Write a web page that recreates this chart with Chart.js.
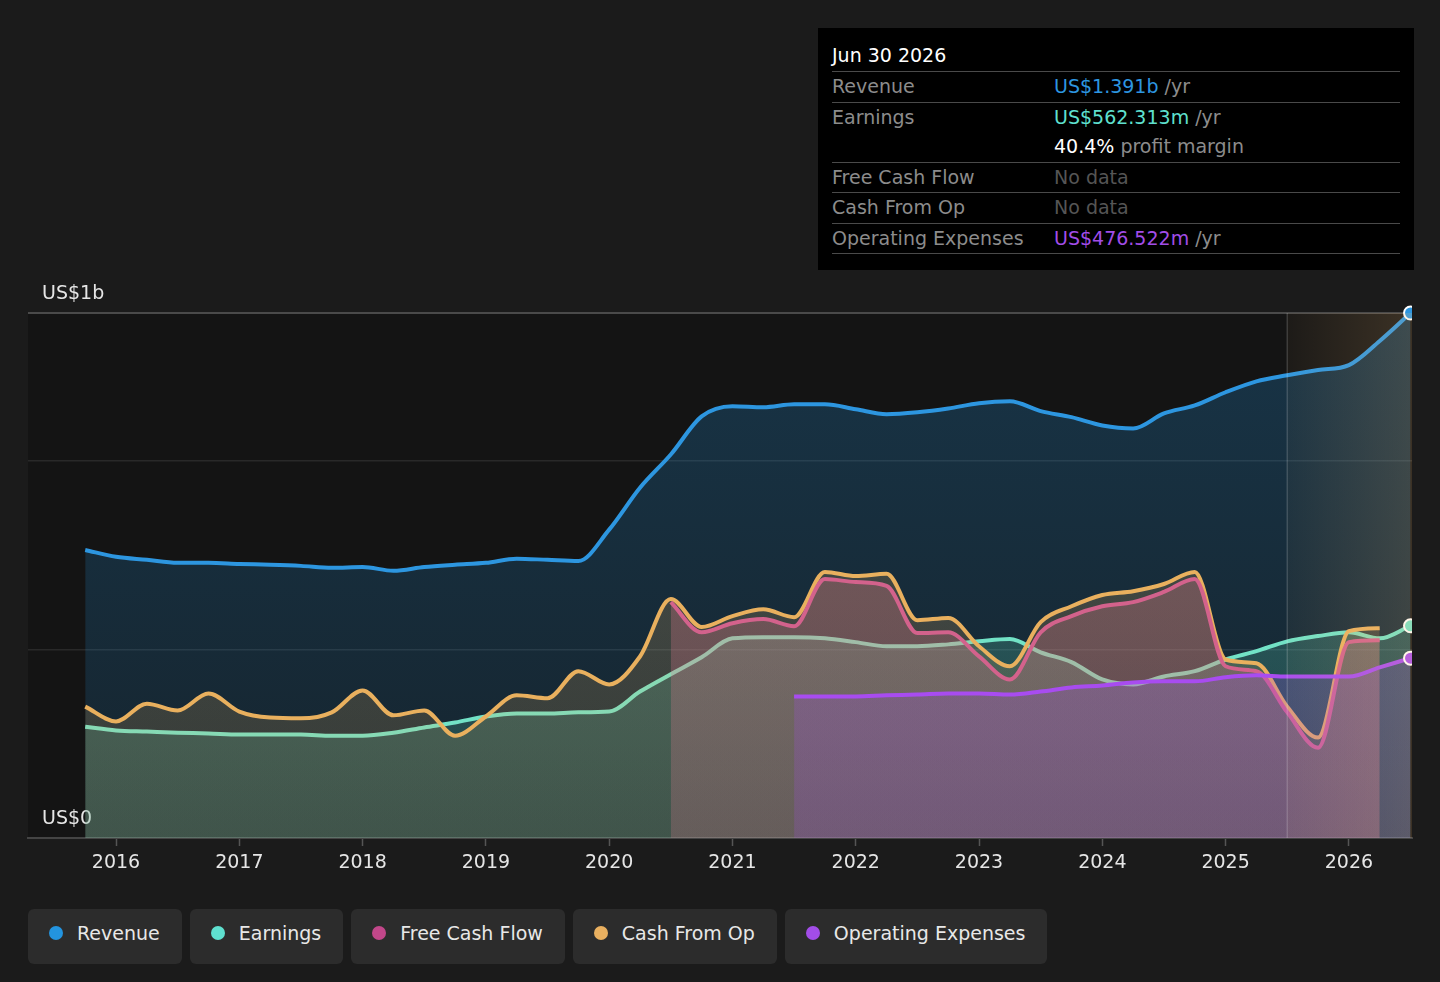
<!DOCTYPE html>
<html>
<head>
<meta charset="utf-8">
<title>Revenue &amp; Earnings</title>
<script src="https://cdn.jsdelivr.net/npm/chart.js@4.4.1/dist/chart.umd.min.js"></script>
<style>
  html, body {
    margin: 0;
    padding: 0;
    width: 1440px;
    height: 982px;
    overflow: hidden;
    background: #1b1b1b;
    font-family: "DejaVu Sans", sans-serif;
  }
  #wrap { position: relative; width: 1440px; height: 982px; }
  #chart { position: absolute; left: 0; top: 0; }

  /* hover box, top right */
  .tip {
    position: absolute;
    left: 818px;
    top: 28px;
    width: 596px;
    height: 242px;
    background: #000;
    box-sizing: border-box;
    padding: 10px 14px 0 14px;
    font-size: 19px;
  }
  .tip .title { color: #fff; height: 33px; line-height: 34px; border-bottom: 1px solid #4a4a4a; }
  .tip .row { display: flex; border-bottom: 1px solid #4a4a4a; }
  .tip .lab { width: 222px; color: #8c8c8c; line-height: 29.5px; }
  .tip .val { color: #8c8c8c; line-height: 29.5px; }
  .tip .nodata { color: #555; }

  .legend {
    position: absolute;
    left: 28px;
    top: 909px;
    display: flex;
    gap: 8px;
  }
  .legend .item {
    height: 55px;
    box-sizing: border-box;
    padding: 0 22px 7px 21px;
    background: #2c2c2c;
    border-radius: 6px;
    display: flex;
    align-items: center;
    color: #e8e8e8;
    font-size: 19px;
  }
  .legend .dot { width: 14px; height: 14px; border-radius: 50%; margin-right: 14px; }
</style>
</head>
<body>
<div id="wrap">
  <canvas id="chart" width="1440" height="900"></canvas>

  <div class="tip">
    <div class="title">Jun 30 2026</div>
    <div class="row"><div class="lab">Revenue</div><div class="val"><span style="color:#2d96e0">US$1.391b</span> /yr</div></div>
    <div class="row"><div class="lab">Earnings</div>
      <div class="val"><span style="color:#5fe0cf">US$562.313m</span> /yr<br><span style="color:#fff">40.4%</span> profit margin</div></div>
    <div class="row"><div class="lab">Free Cash Flow</div><div class="val nodata">No data</div></div>
    <div class="row"><div class="lab">Cash From Op</div><div class="val nodata">No data</div></div>
    <div class="row"><div class="lab">Operating Expenses</div><div class="val"><span style="color:#a24de8">US$476.522m</span> /yr</div></div>
  </div>

  <div class="legend" id="legend"></div>
</div>

<script>
// quarter ends, as decimal years (Sep 2015 .. Jun 2026)
const quarters = [
  2015.75, 2016.0, 2016.25, 2016.5, 2016.75, 2017.0, 2017.25, 2017.5, 2017.75,
  2018.0, 2018.25, 2018.5, 2018.75, 2019.0, 2019.25, 2019.5, 2019.75,
  2020.0, 2020.25, 2020.5, 2020.75, 2021.0, 2021.25, 2021.5, 2021.75,
  2022.0, 2022.25, 2022.5, 2022.75, 2023.0, 2023.25, 2023.5, 2023.75,
  2024.0, 2024.25, 2024.5, 2024.75, 2025.0, 2025.25, 2025.5, 2025.75,
  2026.0, 2026.25, 2026.5
];

// values in US$ millions
const revenue = [
  763, 745, 737, 729, 729, 726, 724, 721, 716, 718, 708, 718, 724, 729, 740, 737, 734,
  817, 928, 1016, 1117, 1144, 1141, 1149, 1149, 1136, 1123, 1128, 1138, 1152, 1157,
  1131, 1115, 1093, 1085, 1125, 1146, 1181, 1210, 1226, 1240, 1253, 1317, 1391
];
const earnings = [
  295, 285, 282, 279, 277, 274, 274, 274, 271, 271, 279, 293, 306, 322, 330, 330, 333,
  335, 388, 434, 479, 529, 532, 532, 529, 519, 508, 508, 513, 521, 527,
  492, 466, 420, 407, 428, 442, 473, 495, 521, 535, 545, 529, 562.313
];
// Sep 2015 .. Mar 2026
const cashFromOp = [
  348, 309, 356, 338, 383, 335, 319, 317, 333, 391, 325, 338, 271, 322, 378, 370, 442,
  407, 481, 633, 559, 588, 606, 585, 705, 694, 700, 577, 583, 508, 455,
  572, 614, 644, 654, 673, 705, 473, 463, 348, 266, 548, 556
];
// Jun 2020 .. Mar 2026
const fcfQuarters = quarters.slice(19, 43);
const freeCashFlow = [
  625, 545, 569, 580, 561, 686, 678, 668, 543, 545, 481, 420,
  545, 588, 614, 625, 652, 686, 455, 442, 333, 239, 519, 524
];
// Jun 2021 .. Jun 2026
const opexQuarters = quarters.slice(23);
const operatingExpenses = [
  375, 375, 375, 378, 380, 383, 383, 380, 388, 399, 404,
  412, 415, 415, 426, 431, 428, 428, 428, 452, 476.522
];

const yearTicks = [2016, 2017, 2018, 2019, 2020, 2021, 2022, 2023, 2024, 2025, 2026];
const yTicks = [0, 500, 1000, 1391];
const yLabels = { 0: "US$0", 1391: "US$1b" };
const forecastStart = 2025.5;

const FONT = '"DejaVu Sans", sans-serif';

function gradientFill(rgb, aTop, aBottom) {
  return function (context) {
    const area = context.chart.chartArea;
    if (!area) return "rgba(" + rgb + "," + aBottom + ")";
    const g = context.chart.ctx.createLinearGradient(0, area.top, 0, area.bottom);
    g.addColorStop(0, "rgba(" + rgb + "," + aTop + ")");
    g.addColorStop(1, "rgba(" + rgb + "," + aBottom + ")");
    return g;
  };
}

function series(label, xs, ys, color, fill, order, endDot) {
  return {
    label: label,
    data: xs.map((x, i) => ({ x: x, y: ys[i] })),
    borderColor: color,
    borderWidth: 4,
    backgroundColor: fill,
    fill: "origin",
    cubicInterpolationMode: "monotone",
    pointRadius: (ctx) => (endDot && ctx.dataIndex === ys.length - 1 ? 6.5 : 0),
    pointHoverRadius: 0,
    pointBackgroundColor: color,
    pointBorderColor: "#ffffff",
    pointBorderWidth: 2,
    clip: { left: 2, top: 12, right: 0, bottom: 2 },
    order: order
  };
}

// plot background, forecast shading
const decor = {
  id: "decor",
  beforeDraw(chart) {
    const { ctx, chartArea: a } = chart;
    ctx.save();
    ctx.fillStyle = "#141414";
    ctx.fillRect(a.left, a.top, a.right - a.left, a.bottom - a.top);
    ctx.restore();
  },
  afterDatasetsDraw(chart) {
    const { ctx, chartArea: a } = chart;
    const fx = chart.scales.x.getPixelForValue(forecastStart);
    ctx.save();
    const g = ctx.createLinearGradient(fx, 0, a.right, 0);
    g.addColorStop(0, "rgba(255,195,120,0.04)");
    g.addColorStop(1, "rgba(255,195,120,0.17)");
    ctx.fillStyle = g;
    ctx.fillRect(fx, a.top, a.right - fx, a.bottom - a.top);
    ctx.strokeStyle = "rgba(255,255,255,0.16)";
    ctx.lineWidth = 1.5;
    ctx.beginPath();
    ctx.moveTo(fx, a.top);
    ctx.lineTo(fx, a.bottom);
    ctx.stroke();
    ctx.restore();
  }
};

const ctx = document.getElementById("chart").getContext("2d");
new Chart(ctx, {
  type: "line",
  data: {
    datasets: [
      series("Revenue", quarters, revenue, "#2d96e0", gradientFill("35,148,223", 0.25, 0.13), 5, true),
      series("Earnings", quarters, earnings, "#72e2c6", gradientFill("95,224,190", 0.3, 0.17), 4, true),
      series("Cash From Op", quarters.slice(0, 43), cashFromOp, "#e9b05e", gradientFill("233,176,96", 0.25, 0.15), 3, false),
      series("Free Cash Flow", fcfQuarters, freeCashFlow, "#d3628c", gradientFill("220,120,140", 0.36, 0.24), 2, false),
      series("Operating Expenses", opexQuarters, operatingExpenses, "#a84cf0", gradientFill("162,77,232", 0.3, 0.2), 1, true)
    ]
  },
  options: {
    responsive: false,
    animation: false,
    events: [],
    layout: { padding: { left: 28, right: 28, top: 313, bottom: 22 } },
    plugins: {
      legend: { display: false },
      tooltip: { enabled: false }
    },
    scales: {
      x: {
        type: "linear",
        min: 2015.286,
        max: 2026.512,
        afterBuildTicks: (scale) => { scale.ticks = yearTicks.map((v) => ({ value: v })); },
        afterFit: (scale) => { scale.height = 40; },
        ticks: {
          callback: (v) => String(v),
          color: "#e6e6e6",
          font: { family: FONT, size: 19 },
          padding: 6,
          maxRotation: 0,
          autoSkip: false
        },
        grid: { drawOnChartArea: false, drawTicks: true, tickLength: 8, tickColor: "#555555", tickWidth: 1.5 },
        border: { color: "#444444", width: 2 }
      },
      y: {
        min: 0,
        max: 1391,
        afterBuildTicks: (scale) => { scale.ticks = yTicks.map((v) => ({ value: v })); },
        afterFit: (scale) => { scale.width = 0; },
        ticks: {
          mirror: true,
          padding: 14,
          labelOffset: -19,
          color: "#e6e6e6",
          font: { family: FONT, size: 19 },
          callback: (v) => yLabels[v] || ""
        },
        grid: {
          drawTicks: false,
          color: (c) => (c.tick.value === 1391 ? "#4a4a4a" : c.tick.value === 0 ? "rgba(0,0,0,0)" : "rgba(255,255,255,0.09)"),
          lineWidth: (c) => (c.tick.value === 1391 ? 2 : 1.5)
        },
        border: { display: false }
      }
    }
  },
  plugins: [decor]
});

// legend chips
const legendItems = [
  ["Revenue", "#2394df"],
  ["Earnings", "#5fe0cf"],
  ["Free Cash Flow", "#c2478a"],
  ["Cash From Op", "#e9b060"],
  ["Operating Expenses", "#a24de8"]
];
const legend = document.getElementById("legend");
legendItems.forEach(([name, color]) => {
  const item = document.createElement("div");
  item.className = "item";
  item.innerHTML = '<span class="dot" style="background:' + color + '"></span>' + name;
  legend.appendChild(item);
});
</script>
</body>
</html>
